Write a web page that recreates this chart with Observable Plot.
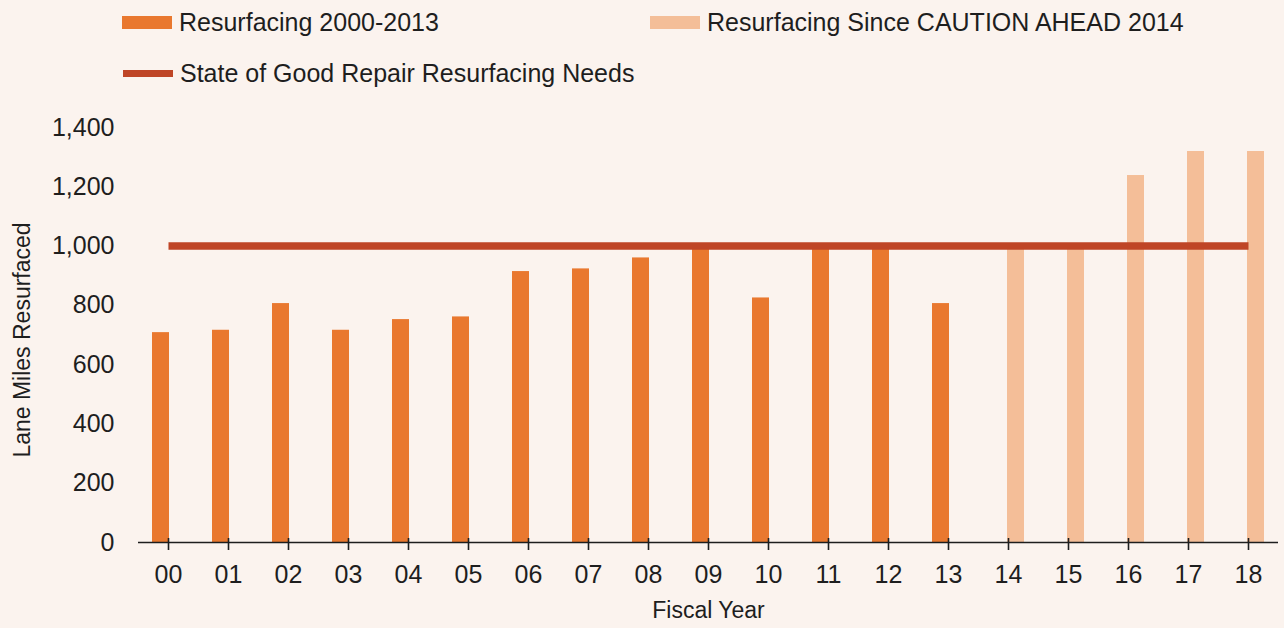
<!DOCTYPE html>
<html><head><meta charset="utf-8">
<script src="https://cdn.jsdelivr.net/npm/d3@7"></script>
<script src="https://cdn.jsdelivr.net/npm/@observablehq/plot@0.6"></script>
<style>
html,body{margin:0;padding:0;background:#fbf3ee;}
body{width:1284px;height:628px;overflow:hidden;font-family:"Liberation Sans",Arial,sans-serif;color:#1e1e1e;}
#legend{position:relative;height:100px;}
.item{position:absolute;display:flex;align-items:center;font-size:25px;line-height:30px;height:30px;white-space:nowrap;}
.sw{width:50px;height:13px;margin-right:7px;}
.ln{height:7px;}
#chart svg{display:block;}
</style></head><body>
<div id="legend"></div>
<div id="chart"></div>
<script>
const years = ["00","01","02","03","04","05","06","07","08","09","10","11","12","13","14","15","16","17","18"];
const resurfacing2000 = [708,716,806,716,752,761,914,923,960,1000,825,1000,1000,806];
const resurfacingSince2014 = [1000,1000,1238,1319,1319];
const repairNeeds = 1000;
const yTicks = [0,200,400,600,800,1000,1200,1400];
const seriesNames = ["Resurfacing 2000-2013","Resurfacing Since CAUTION AHEAD 2014","State of Good Repair Resurfacing Needs"];
const colors = ["#e9782f","#f4be98","#bf4526"];
const xLabel = "Fiscal Year";
const yLabel = "Lane Miles Resurfaced";

// legend
const legend = document.getElementById("legend");
const pos = [[122,7,false],[650,7,false],[123,58,true]];
seriesNames.forEach((n,i)=>{
  const it = document.createElement("div");
  it.className = "item";
  it.style.left = pos[i][0]+"px";
  it.style.top = pos[i][1]+"px";
  const sw = document.createElement("div");
  sw.className = "sw" + (pos[i][2] ? " ln" : "");
  sw.style.background = colors[i];
  const t = document.createElement("span");
  t.textContent = n;
  it.appendChild(sw); it.appendChild(t);
  legend.appendChild(it);
});

const d1 = resurfacing2000.map((v,i)=>({year: years[i], value: v}));
const d2 = resurfacingSince2014.map((v,i)=>({year: years[resurfacing2000.length + i], value: v}));
const needs = years.map(y=>({year: y, value: repairNeeds}));

const ink = "#1e1e1e";
const chart = Plot.plot({
  width: 1284, height: 528,
  marginLeft: 138, marginRight: 6, marginTop: 27, marginBottom: 86,
  x: {type: "band", domain: years, padding: 0, label: null},
  y: {domain: [0,1400], label: null},
  style: {background: "transparent", fontFamily: "'Liberation Sans', Arial, sans-serif", color: ink, overflow: "visible"},
  marks: [
    Plot.barY(d1, {x: "year", y: "value", fill: colors[0], insetLeft: 14, insetRight: 29}),
    Plot.barY(d2, {x: "year", y: "value", fill: colors[1], insetLeft: 29, insetRight: 14}),
    Plot.lineY(needs, {x: "year", y: "value", stroke: colors[2], strokeWidth: 7.5, strokeLinecap: "butt"}),
    Plot.ruleY([0], {stroke: ink, strokeWidth: 1.6}),
    Plot.ruleX(years, {x: d=>d, y1: 0, y2: 0, insetTop: -4, insetBottom: -8, stroke: ink, strokeWidth: 1.6}),
    Plot.axisX({tickSize: 0, tickPadding: 23, fontSize: 25, fill: ink}),
    Plot.axisY({ticks: yTicks, tickFormat: d3.format(","), tickSize: 0, tickPadding: 24, fontSize: 25, fill: ink}),
    Plot.text([yLabel], {text: d=>d, frameAnchor: "left", textAnchor: "middle", lineAnchor: "middle", dx: -116, dy: 5, rotate: -90, fontSize: 23, fill: ink}),
    Plot.text([xLabel], {text: d=>d, frameAnchor: "bottom", textAnchor: "middle", lineAnchor: "middle", dy: 68, fontSize: 23, fill: ink})
  ]
});
document.getElementById("chart").appendChild(chart);
</script>
</body></html>
